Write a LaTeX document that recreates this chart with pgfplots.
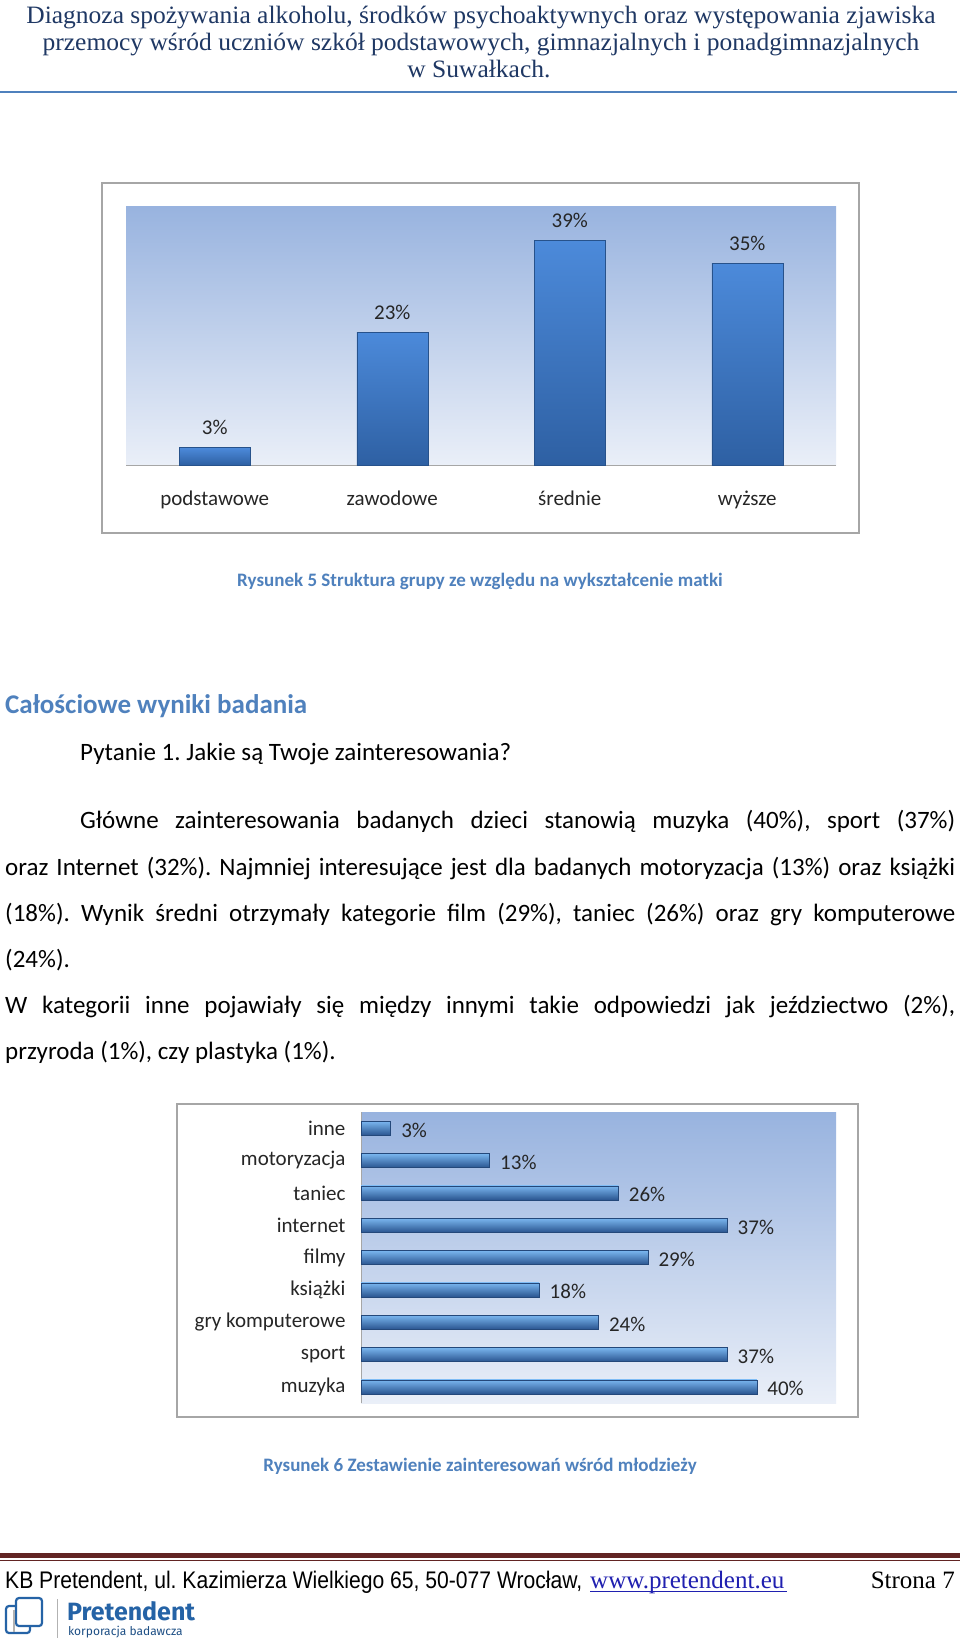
\documentclass[border=0pt]{standalone}
\usepackage{pgfplots}
\pgfplotsset{compat=1.18}
\usepackage{fontspec}
\setmainfont{Carlito}
\newfontfamily\hdrfont[FakeStretch=1.02]{Liberation Serif}
\newfontfamily\narrowfont[FakeStretch=0.88]{Liberation Sans}
\newfontfamily\seriffont{Liberation Serif}
\newfontfamily\logofont{Fira Sans}
\definecolor{hdr}{HTML}{1F3864}
\definecolor{hdrrule}{HTML}{4F81BD}
\definecolor{capblue}{HTML}{4F81BD}
\definecolor{footrule}{HTML}{622423}
\definecolor{framegray}{HTML}{A6A6A6}
\definecolor{bgtop}{HTML}{98B3DF}
\definecolor{bgbot}{HTML}{EAEFF8}
\definecolor{bartop}{HTML}{4C8ADA}
\definecolor{barbot}{HTML}{2E60A3}
\definecolor{hbtop}{HTML}{7AB6EF}
\definecolor{hbmid}{HTML}{4281CD}
\definecolor{hbbot}{HTML}{2A5590}
\definecolor{urlblue}{HTML}{2020B0}
\definecolor{logoblue}{HTML}{2563A6}
\pgfplotsset{
  vbar/.style={bar shift=0pt, draw=barbot!85!black, line width=0.5, top color=bartop, bottom color=barbot},
  hbar/.style={bar shift=0pt, draw=hbbot!85!black, line width=0.5, top color=hbtop, middle color=hbmid, bottom color=hbbot},
}
\begin{document}
\frenchspacing
\begin{tikzpicture}[x=1pt,y=1pt]
\path[use as bounding box] (0,0) rectangle (960,-1645);
\fill[white] (0,0) rectangle (960,-1645);
% header
\begin{scope}[every node/.style={anchor=base, inner sep=0, text=hdr, font=\hdrfont\fontsize{25}{28}\selectfont}]
\node at (481,-24) {Diagnoza spożywania alkoholu, środków psychoaktywnych oraz występowania zjawiska};
\node at (481,-51) {przemocy wśród uczniów szkół podstawowych, gimnazjalnych i ponadgimnazjalnych};
\node at (479,-78) {w Suwałkach.};
\end{scope}
\draw[hdrrule, line width=2.5] (0,-92) -- (957,-92);
% chart 1 frame
\draw[framegray, line width=1.5, fill=white] (102,-183) rectangle (859,-533);
\begin{axis}[at={(126pt,-465pt)}, anchor=south west, scale only axis,
  width=710pt, height=259pt, ymin=0, ymax=45, xmin=-0.5, xmax=3.5,
  axis x line*=bottom, axis y line=none,
  axis line style={draw=gray!70, line width=1},
  axis background/.style={top color=bgtop, bottom color=bgbot},
  xtick={0,1,2,3}, xticklabels={podstawowe,zawodowe,średnie,wyższe},
  major tick length=0pt, ytick=\empty,
  xticklabel style={font=\fontsize{21}{24}\selectfont, text=black!85, yshift=-22pt},
  ybar, bar width=71pt,
  nodes near coords={\pgfmathprintnumber{\pgfplotspointmeta}\%},
  /pgf/number format/assume math mode=true,
  every node near coord/.append style={font=\fontsize{21}{24}\selectfont, text=black!85, yshift=9pt},
  clip=false]
\addplot[vbar] coordinates {(0,3)};
\addplot[vbar] coordinates {(1,23)};
\addplot[vbar] coordinates {(2,39)};
\addplot[vbar] coordinates {(3,35)};
\end{axis}
\node[anchor=base, inner sep=0, font=\bfseries\fontsize{19}{22}\selectfont, text=capblue] at (480,-586) {Rysunek 5 Struktura grupy ze względu na wykształcenie matki};
% text
\node[anchor=base west, inner sep=0, font=\bfseries\fontsize{27}{31}\selectfont, text=capblue] at (5,-713) {Całościowe wyniki badania};
\begin{scope}[every node/.style={anchor=base west, inner sep=0, font=\fontsize{25}{29}\selectfont, text=black}]
\node at (80,-760) {Pytanie 1. Jakie są Twoje zainteresowania?};
\node at (80,-828) {\makebox[875pt][s]{Główne zainteresowania badanych dzieci stanowią muzyka (40\%), sport (37\%)}};
\node at (5,-875) {\makebox[950pt][s]{oraz Internet (32\%). Najmniej interesujące jest dla badanych motoryzacja (13\%) oraz książki}};
\node at (5,-921) {\makebox[950pt][s]{(18\%). Wynik średni otrzymały kategorie film (29\%), taniec (26\%) oraz gry komputerowe}};
\node at (5,-967) {(24\%).};
\node at (5,-1013) {\makebox[950pt][s]{W kategorii inne pojawiały się między innymi takie odpowiedzi jak jeździectwo (2\%),}};
\node at (5,-1059) {przyroda (1\%), czy plastyka (1\%).};
\end{scope}
% chart 2 frame
\draw[framegray, line width=1.5, fill=white] (177,-1104) rectangle (858,-1417);
\begin{axis}[at={(361pt,-1403pt)}, anchor=south west, scale only axis,
  width=475pt, height=291pt, xmin=0, xmax=48, ymin=-0.5, ymax=8.5,
  axis y line*=left, axis x line=none,
  axis line style={draw=gray!70, line width=1},
  axis background/.style={top color=bgtop, bottom color=bgbot},
  ytick={0,1,2,3,4,5,6,7,8},
  yticklabels={muzyka,sport,gry komputerowe,książki,filmy,internet,taniec,motoryzacja,inne},
  major tick length=0pt, xtick=\empty,
  yticklabel style={font=\fontsize{21}{24}\selectfont, text=black!85, xshift=-12pt},
  xbar, bar width=14pt,
  nodes near coords={\pgfmathprintnumber{\pgfplotspointmeta}\%},
  /pgf/number format/assume math mode=true,
  every node near coord/.append style={font=\fontsize{21}{24}\selectfont, text=black!85, xshift=7pt, yshift=-2pt},
  clip=false]
\addplot[hbar] coordinates {(40,0)};
\addplot[hbar] coordinates {(37,1)};
\addplot[hbar] coordinates {(24,2)};
\addplot[hbar] coordinates {(18,3)};
\addplot[hbar] coordinates {(29,4)};
\addplot[hbar] coordinates {(37,5)};
\addplot[hbar] coordinates {(26,6)};
\addplot[hbar] coordinates {(13,7)};
\addplot[hbar] coordinates {(3,8)};
\end{axis}
\node[anchor=base, inner sep=0, font=\bfseries\fontsize{19}{22}\selectfont, text=capblue] at (480,-1471) {Rysunek 6 Zestawienie zainteresowań wśród młodzieży};
% footer
\fill[footrule] (0,-1553) rectangle (960,-1557.5);
\fill[footrule] (0,-1559.5) rectangle (960,-1560.5);
\node[anchor=base west, inner sep=0, font=\narrowfont\fontsize{24}{28}\selectfont] at (5,-1588) {KB Pretendent, ul. Kazimierza Wielkiego 65, 50-077 Wrocław,};
\node[anchor=base west, inner sep=0, font=\seriffont\fontsize{25}{28}\selectfont, text=urlblue] at (590,-1588) {www.pretendent.eu};
\draw[urlblue, line width=1] (590,-1591) -- (787,-1591);
\node[anchor=base east, inner sep=0, font=\seriffont\fontsize{25}{28}\selectfont] at (955,-1588) {Strona 7};
% logo
\draw[logoblue, line width=2.2, rounded corners=3] (6,-1606) rectangle (30,-1633);
\draw[logoblue, line width=2.2, rounded corners=3, fill=white] (16,-1598) rectangle (42,-1626);
\draw[gray!60, line width=1.5] (14,-1610) -- (14,-1632);
\draw[gray!60, line width=1] (57,-1599) -- (57,-1638);
\node[anchor=base west, inner sep=0, font=\logofont\bfseries\fontsize{25}{28}\selectfont, text=logoblue] at (67,-1620) {Pretendent};
\node[anchor=base west, inner sep=0, font=\logofont\fontsize{12}{14}\selectfont, text=logoblue!80!black] at (68,-1635) {korporacja badawcza};
\end{tikzpicture}
\end{document}
